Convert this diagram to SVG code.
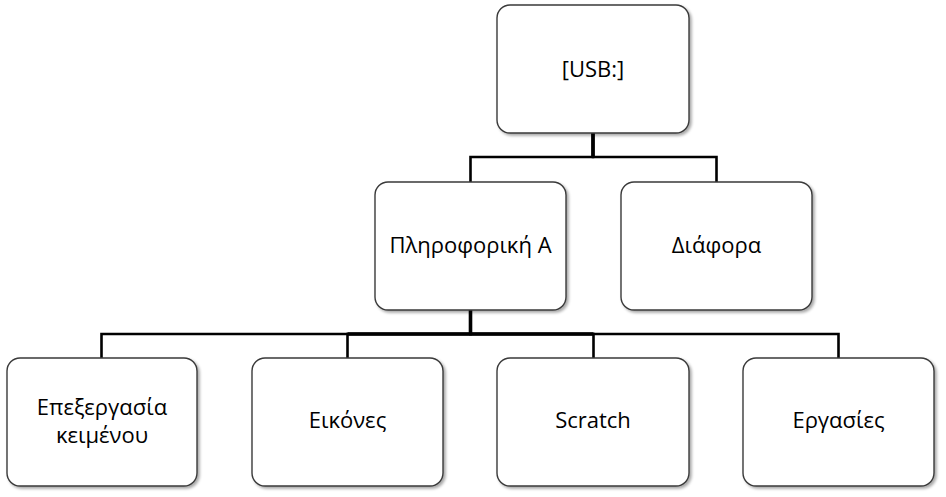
<svg xmlns="http://www.w3.org/2000/svg" width="946" height="497" viewBox="0 0 946 497">
<defs>
<filter id="sh" x="-10%" y="-10%" width="125%" height="125%">
<feGaussianBlur in="SourceAlpha" stdDeviation="1.5"/>
<feOffset dx="1.5" dy="2" result="b"/>
<feComponentTransfer><feFuncA type="linear" slope="0.35"/></feComponentTransfer>
<feMerge><feMergeNode/><feMergeNode in="SourceGraphic"/></feMerge>
</filter>
</defs>
<style>
.box{fill:#fff;stroke:#3a3a3a;stroke-width:1.4;filter:url(#sh)}
.t{font-family:"Open Sans","Noto Sans","DejaVu Sans",sans-serif;font-size:22px;fill:#000;text-anchor:middle}
.c{fill:none;stroke:#000;stroke-width:2.6}
.s{fill:none;stroke:#000;stroke-width:3.6}
</style>
<rect width="946" height="497" fill="#fff"/>
<g id="connectors">
<path class="c" d="M593,133 V157 H470.5 V182"/>
<path class="c" d="M593,133 V157 H716.5 V182"/>
<path class="c" d="M470.5,310 V334 H101.5 V358"/>
<path class="c" d="M470.5,310 V334 H347.5 V358"/>
<path class="c" d="M470.5,310 V334 H593.5 V358"/>
<path class="c" d="M470.5,310 V334 H838.5 V358"/>
<path class="s" d="M593,133 V157 M470.5,310 V334 M347.5,334 H593.5"/>
</g>
<g id="usb"><rect class="box" x="497" y="5" width="192" height="128" rx="13"/><text class="t" x="593" y="77">[USB:]</text></g>
<g id="pliroforiki"><rect class="box" x="375" y="182" width="191" height="128" rx="13"/><text class="t" x="470.5" y="253">Πληροφορική Α</text></g>
<g id="diafora"><rect class="box" x="621" y="182" width="191" height="128" rx="13"/><text class="t" x="716.5" y="253">Διάφορα</text></g>
<g id="epexergasia"><rect class="box" x="7" y="358" width="190" height="128" rx="13"/><text class="t" x="102" y="415">Επεξεργασία</text><text class="t" x="102" y="443">κειμένου</text></g>
<g id="eikones"><rect class="box" x="252" y="358" width="191" height="128" rx="13"/><text class="t" x="347.5" y="428">Εικόνες</text></g>
<g id="scratch"><rect class="box" x="497" y="358" width="192" height="128" rx="13"/><text class="t" x="593" y="428">Scratch</text></g>
<g id="ergasies"><rect class="box" x="743" y="358" width="191" height="128" rx="13"/><text class="t" x="838.5" y="428">Εργασίες</text></g>
</svg>
